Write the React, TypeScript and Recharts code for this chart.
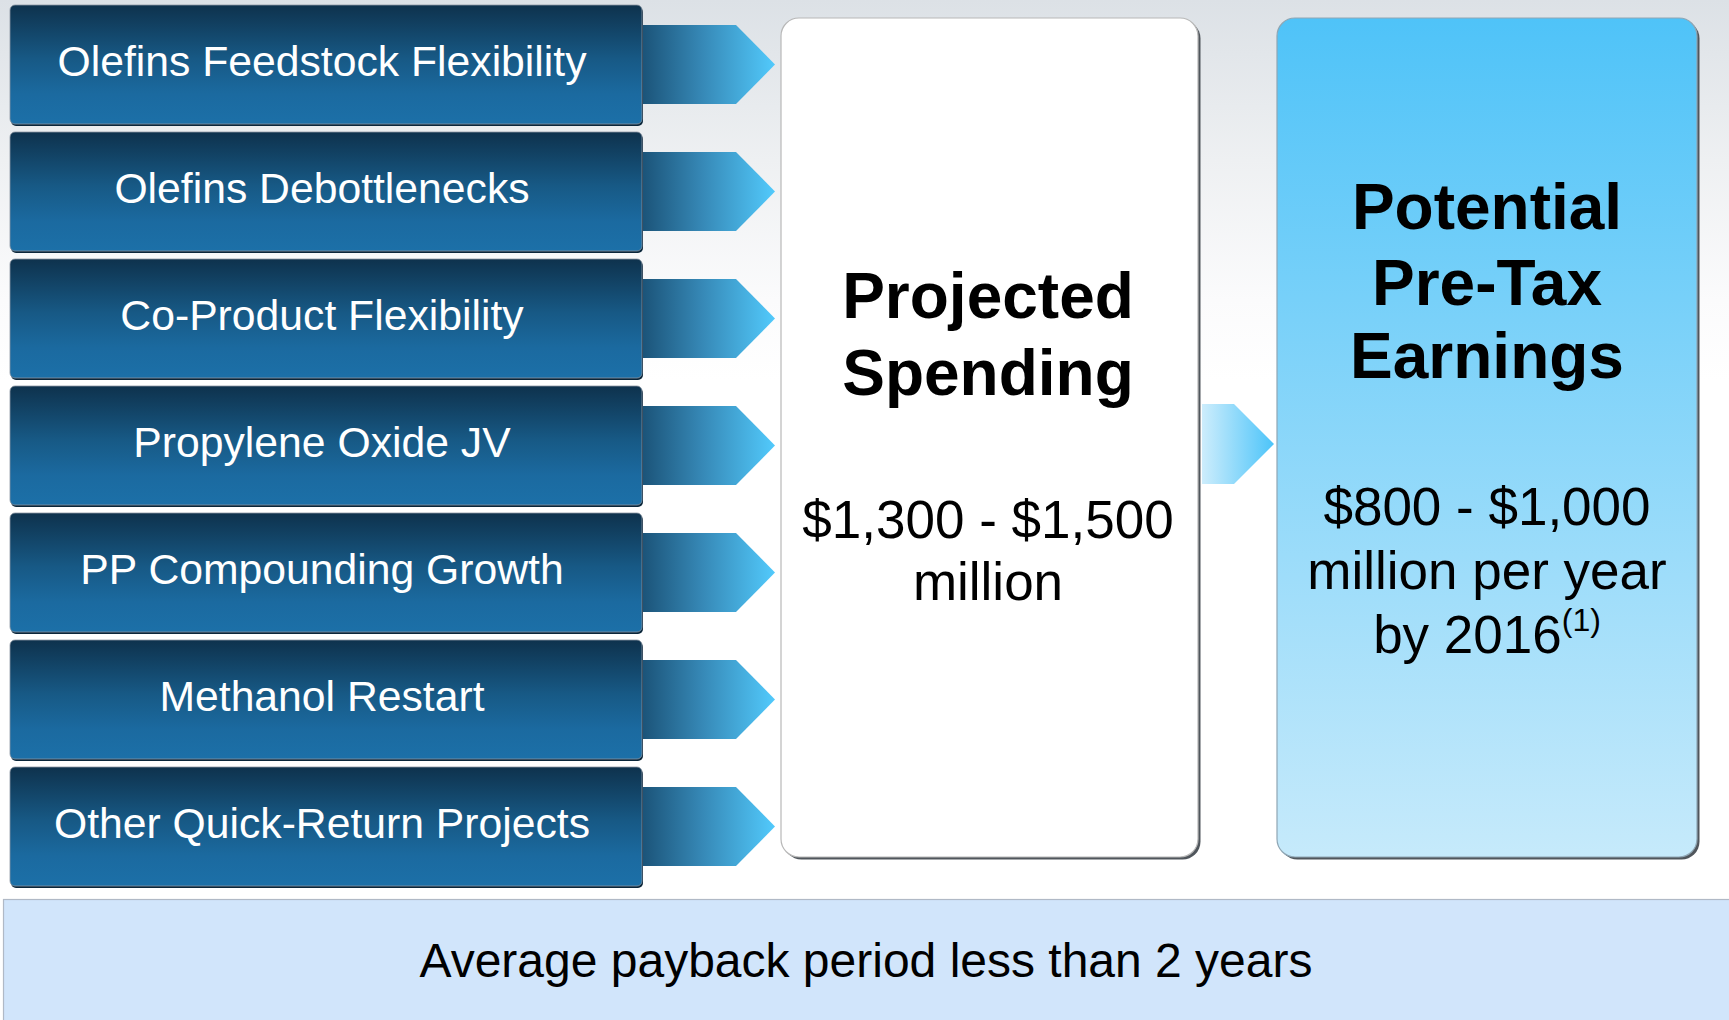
import React from "react";
import { BarChart, Bar, XAxis, YAxis } from "recharts";

// project list feeding the spending box (one equal-width box per project)
const projects = [
  "Olefins Feedstock Flexibility",
  "Olefins Debottlenecks",
  "Co-Product Flexibility",
  "Propylene Oxide JV",
  "PP Compounding Growth",
  "Methanol Restart",
  "Other Quick-Return Projects",
];
const projectWeights = [1, 1, 1, 1, 1, 1, 1];

const spendingTitle = ["Projected", "Spending"];
const spendingRange = ["$1,300 - $1,500", "million"];
const earningsTitle = ["Potential", "Pre-Tax", "Earnings"];
const earningsRange = ["$800 - $1,000", "million per year", "by 2016"];
const earningsNote = "(1)";
const footerText = "Average payback period less than 2 years";

const data = projects.map((name, i) => ({ name, weight: projectWeights[i] }));

const FONT = "'Liberation Sans', Arial, Helvetica, sans-serif";
const W = 1729;
const H = 1020;

function ProjectBox(props: any) {
  const { x, y, width, height, payload } = props;
  const cy = y + height / 2;
  const ax = x + width;
  const half = 39.5;
  const notch = 94;
  const tip = 133;
  const pts = [
    [ax, cy - half],
    [ax + notch, cy - half],
    [ax + tip, cy],
    [ax + notch, cy + half],
    [ax, cy + half],
  ]
    .map((p) => p.join(","))
    .join(" ");
  return (
    <g>
      <polygon points={pts} fill="url(#arrowGrad)" />
      <rect x={x + 1} y={y + 2} width={width} height={height} rx={5} fill="#0a263a" />
      <rect
        x={x}
        y={y}
        width={width}
        height={height}
        rx={5}
        fill="url(#boxGrad)"
        stroke="#8a96a2"
        strokeWidth={0.8}
      />
      <text
        x={x + width / 2 - 4}
        y={cy + 11.5}
        textAnchor="middle"
        fill="#ffffff"
        fontSize={42.7}
        fontFamily={FONT}
      >
        {payload.name}
      </text>
    </g>
  );
}

function Panels() {
  return (
    <g>
      {/* spending box */}
      <rect x={783.5} y={20.5} width={417} height={839} rx={18} fill="#50565c" />
      <rect x={781} y={18} width={417} height={839} rx={18} fill="#ffffff" stroke="#b8b8b8" strokeWidth={1.2} />
      {spendingTitle.map((t, i) => (
        <text key={t} x={988} y={318 + i * 77} textAnchor="middle" fontSize={64} fontWeight="bold" fontFamily={FONT} fill="#000">
          {t}
        </text>
      ))}
      {spendingRange.map((t, i) => (
        <text key={t} x={988} y={538 + i * 62} textAnchor="middle" fontSize={53} fontFamily={FONT} fill="#000">
          {t}
        </text>
      ))}

      {/* middle arrow */}
      <polygon points="1202,404 1234,404 1274,444 1234,484 1202,484" fill="url(#midArrowGrad)" />

      {/* earnings box */}
      <rect x={1279.5} y={20.5} width={420} height={839} rx={18} fill="#50565c" />
      <rect x={1277} y={18} width={420} height={839} rx={18} fill="url(#blueGrad)" stroke="#8fa6b4" strokeWidth={1.2} />
      {earningsTitle.map((t, i) => (
        <text key={t} x={1487} y={[229, 305, 378][i]} textAnchor="middle" fontSize={64} fontWeight="bold" fontFamily={FONT} fill="#000">
          {t}
        </text>
      ))}
      {earningsRange.map((t, i) => (
        <text key={t} x={1487} y={525 + i * 64} textAnchor="middle" fontSize={53} fontFamily={FONT} fill="#000">
          {t}
          {i === earningsRange.length - 1 ? (
            <tspan fontSize={32} dy={-22}>
              {earningsNote}
            </tspan>
          ) : null}
        </text>
      ))}

      {/* footer bar */}
      <rect x={3.5} y={899.5} width={1740} height={130} fill="#d1e5fb" stroke="#b0b9c6" strokeWidth={1.2} />
      <text x={866} y={977} textAnchor="middle" fontSize={48} fontFamily={FONT} fill="#000">
        {footerText}
      </text>
    </g>
  );
}

export default function App() {
  return (
    <div
      style={{
        position: "absolute",
        left: 0,
        top: 0,
        width: W,
        height: H,
        overflow: "hidden",
        background: "linear-gradient(to bottom, #dce1e6 0px, #eef0f2 160px, #fbfbfc 300px, #ffffff 380px)",
      }}
    >
      <svg width={0} height={0} style={{ position: "absolute" }}>
        <defs>
          <linearGradient id="boxGrad" x1="0" y1="0" x2="0" y2="1">
            <stop offset="0" stopColor="#0e324d" />
            <stop offset="0.45" stopColor="#175985" />
            <stop offset="0.75" stopColor="#1b6aa0" />
            <stop offset="1" stopColor="#1c70a8" />
          </linearGradient>
          <linearGradient id="arrowGrad" x1="0" y1="0" x2="1" y2="0">
            <stop offset="0" stopColor="#1b5378" />
            <stop offset="0.45" stopColor="#3688b6" />
            <stop offset="1" stopColor="#52cafc" />
          </linearGradient>
          <linearGradient id="midArrowGrad" x1="0" y1="0" x2="1" y2="0">
            <stop offset="0" stopColor="#cdedfc" />
            <stop offset="1" stopColor="#4cc4f9" />
          </linearGradient>
          <linearGradient id="blueGrad" x1="0" y1="0" x2="0" y2="1">
            <stop offset="0" stopColor="#4fc3f8" />
            <stop offset="1" stopColor="#c6eafb" />
          </linearGradient>
        </defs>
      </svg>
      <BarChart
        width={W}
        height={H}
        data={data}
        layout="vertical"
        margin={{ top: 1, right: W - 642, bottom: H - 890, left: 10 }}
      >
        <XAxis type="number" domain={[0, 1]} hide />
        <YAxis type="category" dataKey="name" hide />
        <Bar dataKey="weight" barSize={119} shape={ProjectBox} isAnimationActive={false} />
        <Panels />
      </BarChart>
    </div>
  );
}
